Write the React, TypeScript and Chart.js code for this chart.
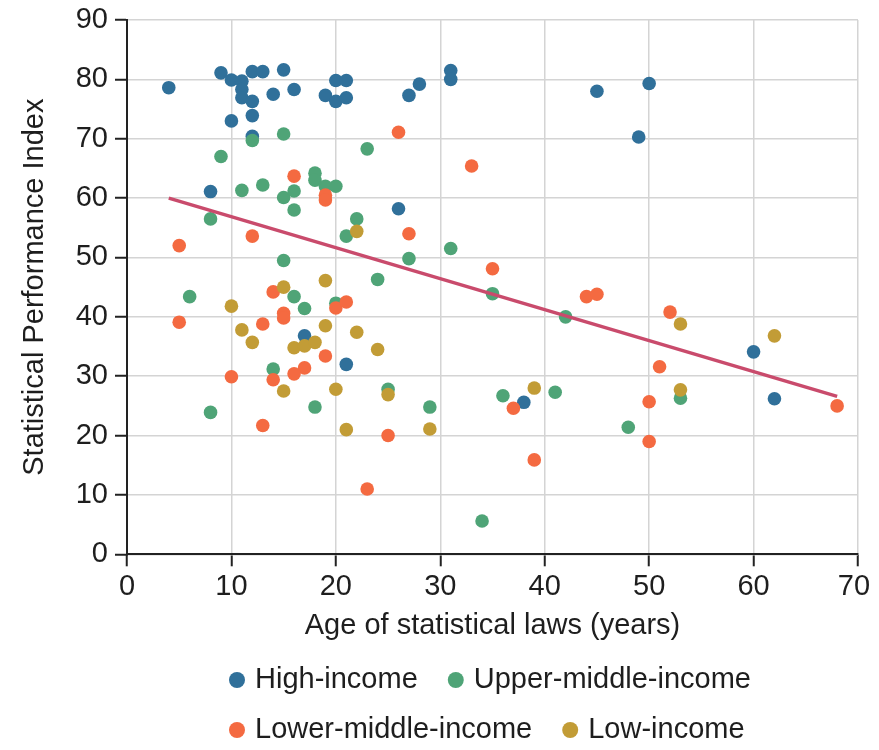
import React, { useEffect, useRef } from "react";
import { Chart, registerables } from "chart.js";

Chart.register(...registerables);

const FONT = '"Liberation Sans", Arial, sans-serif';

const xTitle = "Age of statistical laws (years)";
const yTitle = "Statistical Performance Index";

const seriesNames = ["High-income", "Upper-middle-income", "Lower-middle-income", "Low-income"];
const seriesColors = ["#30709a", "#4fa477", "#f46a41", "#c29c36"];
const trendColor = "#c94b6c";

const highX = [4, 9, 10, 11, 11, 11, 12, 13, 12, 12, 10, 12, 14, 15, 16, 8, 19, 20, 21, 20, 21, 27, 28, 31, 31, 45, 50, 49, 26, 17, 21, 38, 60, 62];
const highY = [78.6, 81.1, 79.9, 79.7, 78.3, 76.9, 81.3, 81.3, 76.3, 73.9, 73.0, 70.4, 77.5, 81.6, 78.3, 61.1, 77.3, 79.8, 79.8, 76.3, 76.9, 77.3, 79.2, 81.5, 80.0, 78.0, 79.3, 70.3, 58.2, 36.8, 32.0, 25.6, 34.1, 26.2];

const upperX = [12, 15, 9, 23, 11, 13, 15, 16, 18, 18, 19, 20, 16, 8, 22, 21, 15, 24, 6, 16, 17, 20, 14, 27, 31, 35, 42, 25, 36, 41, 8, 18, 29, 34, 48, 53];
const upperY = [69.7, 70.8, 67.0, 68.3, 61.3, 62.2, 60.1, 61.2, 64.2, 63.0, 62.0, 62.0, 58.0, 56.5, 56.5, 53.6, 49.5, 46.3, 43.4, 43.4, 41.4, 42.3, 31.2, 49.8, 51.5, 43.9, 40.0, 27.8, 26.7, 27.3, 23.9, 24.8, 24.8, 5.6, 21.4, 26.3];

const lowerX = [16, 19, 19, 26, 33, 5, 12, 14, 15, 15, 20, 21, 5, 13, 19, 17, 16, 10, 14, 27, 35, 44, 45, 52, 51, 50, 50, 68, 13, 23, 37, 25, 39];
const lowerY = [63.7, 60.5, 59.7, 71.1, 65.4, 52.0, 53.6, 44.2, 40.6, 39.8, 41.5, 42.5, 39.1, 38.8, 33.4, 31.4, 30.4, 29.9, 29.4, 54.0, 48.1, 43.4, 43.8, 40.8, 31.6, 25.7, 19.0, 25.0, 21.7, 11.0, 24.6, 20.0, 15.9];

const lowX = [22, 19, 15, 10, 11, 12, 19, 22, 16, 17, 18, 24, 15, 20, 21, 25, 29, 39, 53, 62, 53];
const lowY = [54.4, 46.1, 45.0, 41.8, 37.8, 35.7, 38.5, 37.4, 34.8, 35.1, 35.7, 34.5, 27.5, 27.8, 21.0, 26.9, 21.1, 28.0, 38.8, 36.8, 27.7];

const trendX = [4, 68];
const trendY = [60.0, 26.6];

const legendRows = [
  [0, 1],
  [2, 3],
];

const toPoints = (xs: number[], ys: number[]) => xs.map((x, i) => ({ x, y: ys[i] }));

const legendPlugin = {
  id: "customLegend",
  afterDraw(chart: any) {
    const ctx = chart.ctx;
    ctx.save();
    ctx.font = `29px ${FONT}`;
    ctx.textBaseline = "middle";
    ctx.textAlign = "left";
    const startX = 229;
    const rowY = [672, 722];
    legendRows.forEach((row, r) => {
      let x = startX;
      row.forEach((idx) => {
        ctx.beginPath();
        ctx.fillStyle = seriesColors[idx];
        ctx.arc(x, rowY[r], 8, 0, Math.PI * 2);
        ctx.fill();
        ctx.fillStyle = "#1e1e1e";
        const tx = x + 18;
        ctx.fillText(seriesNames[idx], tx, rowY[r]);
        const w = ctx.measureText(seriesNames[idx]).width;
        x = tx + w + 38;
      });
    });
    ctx.restore();
  },
};

export default function App() {
  const ref = useRef<HTMLCanvasElement | null>(null);

  useEffect(() => {
    if (!ref.current) return;
    const scatterSets = [
      [highX, highY],
      [upperX, upperY],
      [lowerX, lowerY],
      [lowX, lowY],
    ].map(([xs, ys], i) => ({
      type: "scatter" as const,
      label: seriesNames[i],
      data: toPoints(xs, ys),
      backgroundColor: seriesColors[i],
      borderWidth: 0,
      pointRadius: 6.8,
      pointHoverRadius: 6.8,
      order: 4 - i,
    }));
    const chart = new Chart(ref.current, {
      type: "scatter",
      data: {
        datasets: [
          {
            type: "line" as const,
            label: "Trend",
            data: toPoints(trendX, trendY),
            borderColor: trendColor,
            borderWidth: 3.5,
            pointRadius: 0,
            fill: false,
            order: 0,
          } as any,
          ...scatterSets,
        ],
      },
      plugins: [legendPlugin],
      options: {
        animation: false,
        responsive: true,
        maintainAspectRatio: false,
        layout: { padding: { left: 0, top: 12, right: 13, bottom: 87.7 } },
        plugins: {
          legend: { display: false },
          tooltip: { enabled: false },
        },
        scales: {
          x: {
            type: "linear",
            min: 0,
            max: 70,
            ticks: {
              stepSize: 10,
              font: { family: FONT, size: 29 },
              color: "#1e1e1e",
              padding: 3,
              callback: (v: any) => (v === 70 ? "70 " : String(v)),
            },
            grid: { color: "#d4d4d4", lineWidth: 1.5, tickColor: "#222", tickLength: 12, tickWidth: 2 },
            border: { color: "#222", width: 2 },
            title: {
              display: true,
              text: xTitle,
              font: { family: FONT, size: 29 },
              color: "#1e1e1e",
              padding: { top: 0, bottom: 11 },
            },
            afterFit: (s: any) => {
              s.height = 100;
              s.paddingLeft = 0;
              s.paddingRight = 0;
            },
          },
          y: {
            type: "linear",
            min: 0,
            max: 90,
            ticks: { stepSize: 10, font: { family: FONT, size: 29 }, color: "#1e1e1e", padding: 7 },
            grid: { color: "#d4d4d4", lineWidth: 1.5, tickColor: "#222", tickLength: 12, tickWidth: 2 },
            border: { color: "#222", width: 2 },
            title: {
              display: true,
              text: yTitle,
              font: { family: FONT, size: 29 },
              color: "#1e1e1e",
              padding: { top: 9.5, bottom: 0 },
            },
            afterFit: (s: any) => {
              s.width = 119;
              s.paddingTop = 0;
              s.paddingBottom = 0;
            },
          },
        },
      } as any,
    });
    return () => chart.destroy();
  }, []);

  return (
    <div style={{ position: "relative", width: 863, height: 734 }}>
      <canvas ref={ref} />
    </div>
  );
}
